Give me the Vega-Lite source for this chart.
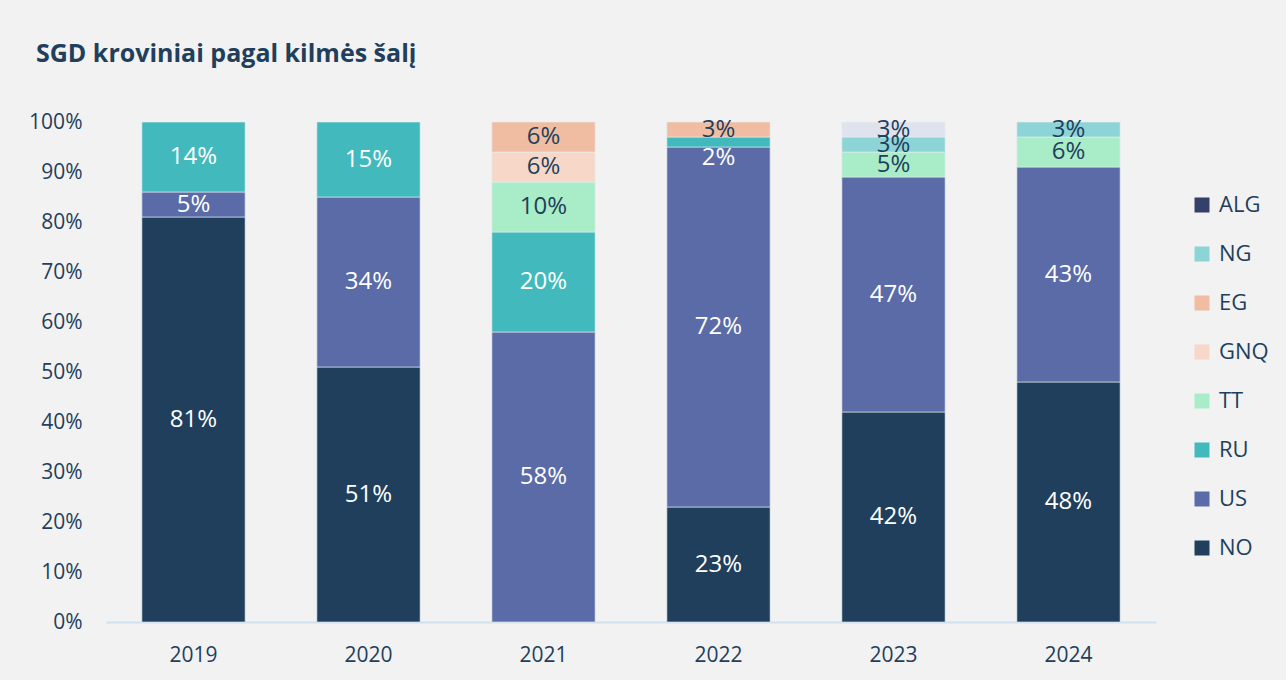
{
  "$schema": "https://vega.github.io/schema/vega-lite/v6.json",
  "autosize": "none",
  "width": 1050,
  "height": 500,
  "padding": {"left": 106, "top": 122, "right": 130, "bottom": 58},
  "background": "#f2f2f2",
  "title": {
    "text": "SGD kroviniai pagal kilmės šalį",
    "anchor": "start",
    "frame": "group",
    "dx": -70,
    "offset": 44,
    "font": "Open Sans",
    "fontSize": 25,
    "fontWeight": "bold",
    "color": "#1f3f5c"
  },
  "config": {
    "view": {"stroke": null},
    "font": "Open Sans"
  },
  "data": {
    "values": [
      {"year": "2019", "c": "NO", "v": 0.81},
      {"year": "2019", "c": "US", "v": 0.05},
      {"year": "2019", "c": "RU", "v": 0.14},
      {"year": "2020", "c": "NO", "v": 0.51},
      {"year": "2020", "c": "US", "v": 0.34},
      {"year": "2020", "c": "RU", "v": 0.15},
      {"year": "2021", "c": "US", "v": 0.58},
      {"year": "2021", "c": "RU", "v": 0.20},
      {"year": "2021", "c": "TT", "v": 0.10},
      {"year": "2021", "c": "GNQ", "v": 0.06},
      {"year": "2021", "c": "EG", "v": 0.06},
      {"year": "2022", "c": "NO", "v": 0.23},
      {"year": "2022", "c": "US", "v": 0.72},
      {"year": "2022", "c": "RU", "v": 0.02},
      {"year": "2022", "c": "EG", "v": 0.03},
      {"year": "2023", "c": "NO", "v": 0.42},
      {"year": "2023", "c": "US", "v": 0.47},
      {"year": "2023", "c": "TT", "v": 0.05},
      {"year": "2023", "c": "NG", "v": 0.03},
      {"year": "2023", "c": "ALG", "v": 0.03},
      {"year": "2024", "c": "NO", "v": 0.48},
      {"year": "2024", "c": "US", "v": 0.43},
      {"year": "2024", "c": "TT", "v": 0.06},
      {"year": "2024", "c": "NG", "v": 0.03}
    ]
  },
  "transform": [
    {"calculate": "indexof(['NO','US','RU','TT','GNQ','EG','NG','ALG'], datum.c)", "as": "ord"}
  ],
  "encoding": {
    "x": {
      "field": "year",
      "type": "ordinal",
      "title": null,
      "scale": {"paddingInner": 0.41, "paddingOuter": 0.205},
      "axis": {
        "labelAngle": 0,
        "labelFontSize": 21,
        "labelColor": "#1f3f5c",
        "labelPadding": 22,
        "ticks": false,
        "domainColor": "#cfe0ef",
        "domainWidth": 2
      }
    },
    "order": {"field": "ord", "type": "quantitative"}
  },
  "layer": [
    {
      "mark": {"type": "bar", "stroke": "#e6eef2", "strokeWidth": 0.6},
      "encoding": {
        "y": {
          "field": "v",
          "type": "quantitative",
          "stack": "zero",
          "title": null,
          "scale": {"domain": [0, 1]},
          "axis": {
            "values": [0, 0.1, 0.2, 0.3, 0.4, 0.5, 0.6, 0.7, 0.8, 0.9, 1],
            "format": ".0%",
            "labelFontSize": 21,
            "labelColor": "#1f3f5c",
            "labelPadding": 24,
            "ticks": false,
            "domain": false,
            "grid": false
          }
        },
        "color": {
          "condition": {"test": "datum.c === 'ALG'", "value": "#dfe3ee"},
          "field": "c",
          "type": "nominal",
          "scale": {
            "domain": ["ALG", "NG", "EG", "GNQ", "TT", "RU", "US", "NO"],
            "range": ["#34406a", "#8dd4d6", "#f0bda2", "#f7d7c8", "#a9ecc8", "#42babd", "#5a6ba8", "#1f3f5c"]
          },
          "legend": {
            "title": null,
            "orient": "none",
            "legendX": 1085,
            "legendY": 72,
            "symbolType": "square",
            "symbolSize": 225,
            "symbolStrokeWidth": 0,
            "labelFontSize": 22,
            "labelColor": "#1f3f5c",
            "labelOffset": 6,
            "rowPadding": 27
          }
        }
      }
    },
    {
      "mark": {"type": "text", "fontSize": 24, "baseline": "middle"},
      "encoding": {
        "y": {"field": "v", "type": "quantitative", "stack": "zero", "bandPosition": 0.5},
        "text": {"field": "v", "type": "quantitative", "format": ".0%"},
        "color": {
          "condition": {"test": "indexof(['NO','US','RU'], datum.c) >= 0", "value": "white"},
          "value": "#1f3f5c"
        },
        "opacity": {
          "condition": {"test": "datum.c === 'RU' && datum.year === '2022'", "value": 0},
          "value": 1
        }
      }
    },
    {
      "mark": {"type": "text", "fontSize": 24, "baseline": "middle", "dy": 16, "color": "white"},
      "encoding": {
        "y": {"field": "v", "type": "quantitative", "stack": "zero", "bandPosition": 0.5},
        "text": {"field": "v", "type": "quantitative", "format": ".0%"},
        "opacity": {
          "condition": {"test": "datum.c === 'RU' && datum.year === '2022'", "value": 1},
          "value": 0
        }
      }
    }
  ]
}
